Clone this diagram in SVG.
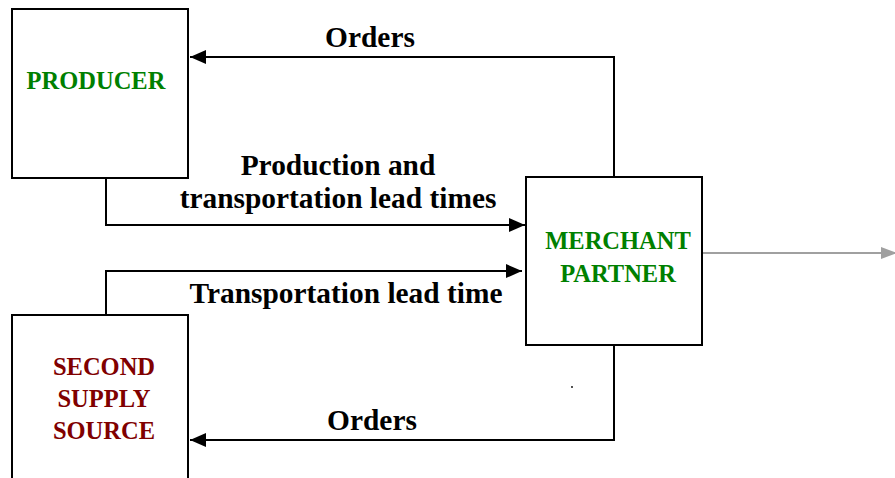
<svg xmlns="http://www.w3.org/2000/svg" width="895" height="478" viewBox="0 0 895 478">
  <style>
    .box { fill: #ffffff; stroke: #000000; stroke-width: 2; }
    .flow { fill: none; stroke: #000000; stroke-width: 2; }
    .out { fill: none; stroke: #a0a0a0; stroke-width: 2; }
    .node { font-family: "Liberation Serif", "Times New Roman", serif; font-weight: bold; font-size: 24.5px; text-anchor: middle; }
    .green { fill: #008000; }
    .red { fill: #800000; }
    .lbl { font-family: "Liberation Serif", "Times New Roman", serif; font-weight: bold; font-size: 29.4px; fill: #000000; text-anchor: middle; }
  </style>
  <defs>
    <marker id="arrow" viewBox="0 0 16 14" refX="16" refY="7" markerWidth="16" markerHeight="14" markerUnits="userSpaceOnUse" orient="auto">
      <path d="M0,0 L16,7 L0,14 Z" fill="#000000"/>
    </marker>
    <marker id="arrowGray" viewBox="0 0 16 12" refX="16" refY="6" markerWidth="16" markerHeight="12" markerUnits="userSpaceOnUse" orient="auto">
      <path d="M0,0 L16,6 L0,12 Z" fill="#a0a0a0"/>
    </marker>
  </defs>
  <rect width="895" height="478" fill="#ffffff"/>

  <g id="connectors">
    <!-- orders from merchant partner back to producer -->
    <path class="flow" d="M614,177 V57 H190" marker-end="url(#arrow)"/>
    <!-- production and transportation lead times -->
    <path class="flow" d="M106,178 V225 H525" marker-end="url(#arrow)"/>
    <!-- transportation lead time from second source -->
    <path class="flow" d="M106,315 V271 H522" marker-end="url(#arrow)"/>
    <!-- orders from merchant partner to second source -->
    <path class="flow" d="M614,345 V440 H190" marker-end="url(#arrow)"/>
    <!-- outgoing flow to the right -->
    <path class="out" d="M703,253 H897" marker-end="url(#arrowGray)"/>
    <circle cx="572" cy="387" r="0.9" fill="#000000"/>
  </g>

  <g id="labels">
    <text class="lbl" x="370" y="47">Orders</text>
    <text class="lbl" x="338" y="175">Production and</text>
    <text class="lbl" x="338" y="208">transportation lead times</text>
    <text class="lbl" x="346" y="303">Transportation lead time</text>
    <text class="lbl" x="372" y="430">Orders</text>
  </g>

  <g id="producer">
    <rect class="box" x="12" y="9" width="176" height="169"/>
    <text class="node green" x="96" y="89">PRODUCER</text>
  </g>

  <g id="merchant-partner">
    <rect class="box" x="526" y="177" width="176" height="168"/>
    <text class="node green" x="618" y="249">MERCHANT</text>
    <text class="node green" x="618" y="282">PARTNER</text>
  </g>

  <g id="second-supply-source">
    <rect class="box" x="12" y="315" width="176" height="175"/>
    <text class="node red" x="104" y="375">SECOND</text>
    <text class="node red" x="104" y="407">SUPPLY</text>
    <text class="node red" x="104" y="439">SOURCE</text>
  </g>
</svg>
